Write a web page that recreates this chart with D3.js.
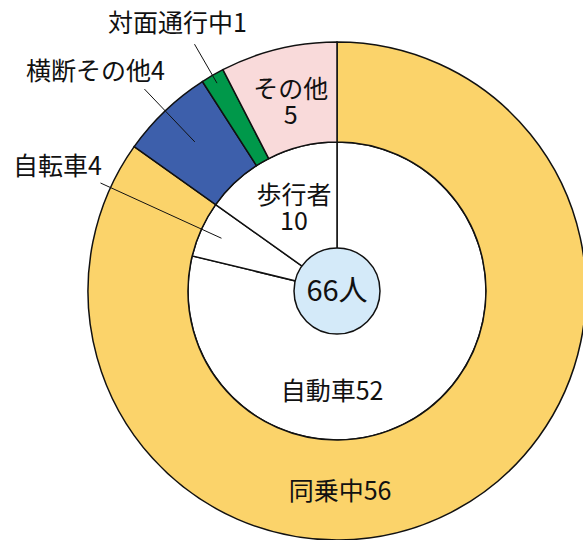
<!DOCTYPE html>
<html>
<head>
<meta charset="utf-8">
<script src="https://cdn.jsdelivr.net/npm/d3@7"></script>
<style>
  body { margin: 0; background: #fff; }
  text { font-family: "Noto Sans CJK JP", sans-serif; fill: #111; }
</style>
</head>
<body>
<svg id="chart" width="583" height="540"></svg>
<script>
    // outer ring: 状態別
    var outerLabels = ['同乗中', '横断その他', '対面通行中', 'その他'];
    var outerValues = [56, 4, 1, 5];
    var outerColors = ['#fbd36a', '#3d5fab', '#00984a', '#f9dada'];

    // inner pie: 当事者別
    var innerLabels = ['自動車', '自転車', '歩行者'];
    var innerValues = [52, 4, 10];

    var totalLabel = '66人';

    var svg = d3.select("#chart"),
      cx = 337, cy = 291,
      rOuter = 249, rInner = 149, rCenter = 43,
      fs = 25;

    var g = svg.append("g").attr("transform", "translate(" + cx + "," + cy + ")");

    var pie = d3.pie().sort(null).value(function(d) { return d; });
    var outerArcs = pie(outerValues);
    var innerArcs = pie(innerValues);

    var ringArc = d3.arc().innerRadius(rInner).outerRadius(rOuter);
    var pieArc = d3.arc().innerRadius(0).outerRadius(rInner);

    g.append("g").selectAll("path")
      .data(innerArcs)
      .enter().append("path")
        .attr("d", pieArc)
        .attr("fill", "#fff")
        .attr("stroke", "#111")
        .attr("stroke-width", 1.5);

    g.append("g").selectAll("path")
      .data(outerArcs)
      .enter().append("path")
        .attr("d", ringArc)
        .attr("fill", function(d, i) { return outerColors[i]; })
        .attr("stroke", "#111")
        .attr("stroke-width", 1.5);

    g.append("circle")
      .attr("r", rCenter)
      .attr("fill", "#d4eaf9")
      .attr("stroke", "#111")
      .attr("stroke-width", 1.5);

    function polar(r, a) {
      return [r * Math.sin(a), -r * Math.cos(a)];
    }
    function mid(d) { return (d.startAngle + d.endAngle) / 2; }

    function label(x, y, s, size) {
      return g.append("text")
        .attr("x", x).attr("y", y)
        .attr("text-anchor", "middle")
        .attr("font-size", size || fs)
        .text(s);
    }

    // leader lines
    var leaders = [
      { arc: outerArcs[2], text: outerLabels[2] + outerValues[2], r1: 240, r2: 285, dx: -17, dy: -12 },
      { arc: outerArcs[1], text: outerLabels[1] + outerValues[1], r1: 206, r2: 279, dx: -49, dy: -9 },
      { arc: innerArcs[1], text: innerLabels[1] + innerValues[1], r1: 127, r2: 260, dx: -43, dy: -8 }
    ];
    leaders.forEach(function(l) {
      var a = mid(l.arc), p1 = polar(l.r1, a), p2 = polar(l.r2, a);
      g.append("line")
        .attr("x1", p1[0]).attr("y1", p1[1])
        .attr("x2", p2[0]).attr("y2", p2[1])
        .attr("stroke", "#111").attr("stroke-width", 1);
      label(p2[0] + l.dx, p2[1] + l.dy, l.text);
    });

    function twoLine(pos, a, b) {
      label(pos[0], pos[1] - 3, a);
      label(pos[0], pos[1] + 23, b);
    }

    twoLine(polar(196, mid(outerArcs[3])), outerLabels[3], outerValues[3]);
    twoLine(polar(94, mid(innerArcs[2])), innerLabels[2], innerValues[2]);

    label(-5, 0.73 * rInner, innerLabels[0] + innerValues[0]);
    label(3, (rInner + rOuter) / 2 + 10, outerLabels[0] + outerValues[0]);
    label(0, 10, totalLabel, 29);
</script>
</body>
</html>
